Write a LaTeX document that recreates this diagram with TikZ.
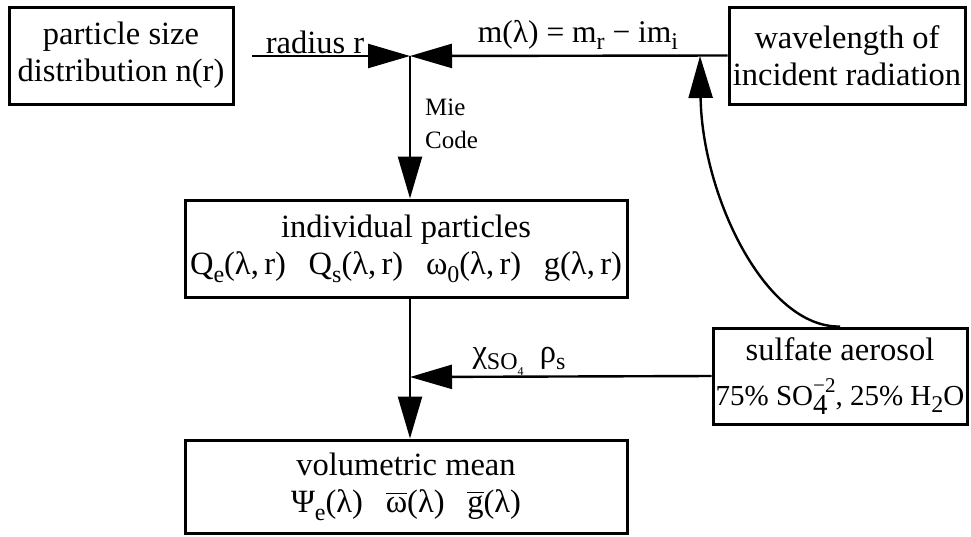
\documentclass[tikz,border=0pt]{standalone}
\usepackage{fontspec}
\usepackage{amsmath}
\setmainfont{Liberation Serif}
\usetikzlibrary{arrows.meta}

% lowered subscript in the text font
\newcommand{\dn}[1]{\raisebox{-0.24em}{\fontsize{24}{24}\selectfont #1}}
\newcommand{\gap}{\hspace{0.7em}}

\tikzset{
  box/.style={draw, line width=3pt, align=center, inner sep=2pt, font=\fontsize{32.5}{37}\selectfont},
  flow/.style={line width=2.4pt, -{Triangle[length=42pt,width=24pt]}},
  lbl/.style={font=\fontsize{32.5}{37}\selectfont, inner sep=1pt},
}

\begin{document}
\begin{tikzpicture}[x=1pt, y=-1pt]
	\useasboundingbox (0,0) rectangle (971,536);

	% boxes
	\node [box, minimum width=224pt, minimum height=97pt] (psd) at (121,55.5) {particle size\\distribution n(r)};
	\node [box, minimum width=236pt, minimum height=97pt] (wave) at (847,55.5) {wavelength of\\incident radiation};
	\node [box, minimum width=442pt, minimum height=97pt] (indiv) at (406,248.5) {individual particles\\Q\dn{e}(λ,\,r)\gap Q\dn{s}(λ,\,r)\gap ω\dn{0}(λ,\,r)\gap g(λ,\,r)};
	\node [box, minimum width=442pt, minimum height=93pt] (vol) at (406,486.5) {volumetric mean\\Ψ\dn{e}(λ)\gap $\overline{\text{ω}}$(λ)\gap $\overline{\text{g}}$(λ)};
	\node [box, minimum width=254pt, minimum height=96pt] (sulf) at (840,376) {sulfate aerosol\\[8pt]{\fontsize{29}{34}\selectfont 75\% SO\rlap{\raisebox{-0.3em}{4}}\raisebox{0.45em}{\fontsize{21}{21}\selectfont −2}, 25\% H\dn{2}O}};

	% junctions and free ends
	\coordinate (j1) at (410,56);
	\coordinate (j2) at (410,377);
	\coordinate (rstart) at (252,56);
	\coordinate (mtip) at (700,56);

	% connectors
	\draw [flow] (rstart) -- (j1);
	\draw [flow] (wave.west) -- (j1);
	\draw [flow] (j1) -- (j1 |- indiv.north);
	\draw [flow] (indiv.south -| j2) -- (vol.north -| j2);
	\draw [flow] (sulf.west) -- (j2);
	\draw [flow] (sulf.north) .. controls (765,328) and (702,195) .. (mtip);

	% labels
	\node [lbl, anchor=base] (rlab) at (315,53) {radius r};
	\node [lbl, anchor=base, font=\fontsize{31.5}{37}\selectfont] (mlab) at (578,42) {m(λ) = m\dn{r} − im\dn{i}};
	\node [lbl, anchor=north west, font=\fontsize{25}{33}\selectfont, align=left] (mie) at (424,98) {Mie\\Code};
	\node [lbl, anchor=base] (chilab) at (519,362) {χ\dn{SO\raisebox{-0.25em}{\fontsize{12}{12}\selectfont 4}}\ \ ρ\dn{s}};
\end{tikzpicture}
\end{document}
